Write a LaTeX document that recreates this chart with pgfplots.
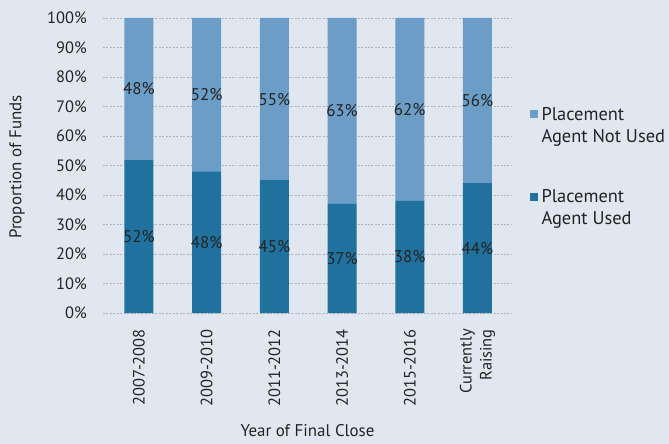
\documentclass[border=0pt]{standalone}
\usepackage{pgfplots}
\pgfplotsset{compat=1.18}
\usepackage{fontspec}
\setmainfont{PT Sans}
\definecolor{bg}{RGB}{224,231,241}
\definecolor{lightbar}{RGB}{108,157,199}
\definecolor{darkbar}{RGB}{32,113,158}
\definecolor{txt}{RGB}{35,35,35}
\definecolor{gridc}{RGB}{175,180,190}
\newcommand{\tfont}{\fontsize{16.5}{20}\selectfont}
\begin{document}
\begin{tikzpicture}
\fill[bg] (-103bp,-131bp) rectangle (566bp,313bp);
\useasboundingbox (-103bp,-131bp) rectangle (566bp,313bp);
\begin{axis}[
  at={(0,0)}, anchor=south west,
  scale only axis, width=409bp, height=295bp,
  ybar stacked, bar width=29bp,
  xmin=-0.53, xmax=5.51, ymin=0, ymax=100,
  xtick={0,...,5},
  xticklabels={2007-2008,2009-2010,2011-2012,2013-2014,2015-2016,{Currently\\Raising}},
  xticklabel style={rotate=90, anchor=east, align=right, font=\tfont, text=txt, inner sep=0pt, xshift=-16bp},
  ytick={0,10,...,100},
  yticklabel={\pgfmathparse{int(\tick)}\pgfmathresult\%},
  yticklabel style={font=\tfont, text=txt, inner sep=0pt, xshift=-16bp},
  ymajorgrids, grid style={dash pattern=on 2pt off 1.5pt, gridc, line width=0.6pt},
  axis line style={draw=none}, major tick style={draw=none},
  xlabel={Year of Final Close}, ylabel={Proportion of Funds},
  x label style={at={(axis description cs:0.5,-0.4)}, anchor=center, font=\fontsize{17}{20}\selectfont, text=txt},
  y label style={at={(axis description cs:-0.21,0.495)}, anchor=center, font=\fontsize{17}{20}\selectfont, text=txt},
  visualization depends on=rawy \as \rawy,
  nodes near coords={\pgfmathprintnumber[assume math mode=true]{\rawy}\%},
  every node near coord/.append style={anchor=center, font=\fontsize{17}{20}\selectfont, text=txt},
  legend image code/.code={\fill[#1,draw=none] (0bp,7bp) rectangle (8bp,15bp);},
  reverse legend,
  legend cell align=left,
  legend style={at={(axis description cs:1.035,0.712)}, anchor=north west, draw=none, fill=none,
    nodes={align=left, text=txt, font=\fontsize{18.5}{22}\selectfont, inner xsep=4bp},
    row sep=42bp},
]
\addplot[fill=darkbar, draw=none] coordinates {(0,52) (1,48) (2,45) (3,37) (4,38) (5,44)};
\addplot[fill=lightbar, draw=none] coordinates {(0,48) (1,52) (2,55) (3,63) (4,62) (5,56)};
\legend{{Placement\\Agent Used},{Placement\\Agent Not Used}}
\end{axis}
\end{tikzpicture}
\end{document}
